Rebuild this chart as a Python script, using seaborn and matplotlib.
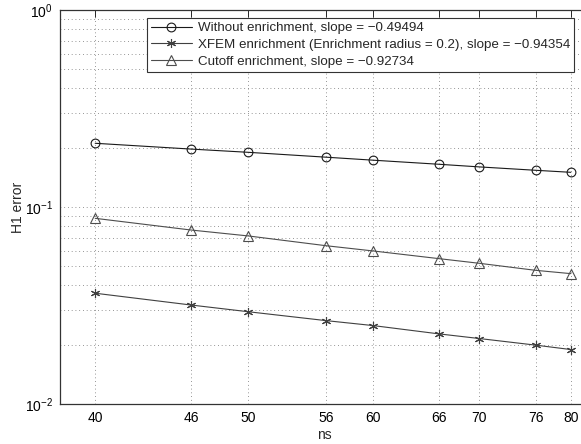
import numpy as np
import pandas as pd
import matplotlib
matplotlib.use("Agg")
import matplotlib.pyplot as plt
import seaborn as sns
from matplotlib.ticker import FixedLocator, FixedFormatter, LogLocator, NullLocator

ns = [40, 46, 50, 56, 60, 66, 70, 76, 80]
err_without = [0.2106, 0.1968, 0.1895, 0.1790, 0.1728, 0.1648, 0.1598, 0.1536, 0.1500]
err_xfem = [0.0365, 0.0318, 0.0294, 0.0265, 0.0250, 0.0227, 0.0215, 0.0199, 0.0189]
err_cutoff = [0.0876, 0.0764, 0.0713, 0.0636, 0.0598, 0.0547, 0.0518, 0.0477, 0.0459]
labels = [
    "Without enrichment, slope = \u22120.49494",
    "XFEM enrichment (Enrichment radius = 0.2), slope = \u22120.94354",
    "Cutoff enrichment, slope = \u22120.92734",
]
xtick_labels = ["40", "46", "50", "56", "60", "66", "70", "76", "80"]

sns.set_theme(style="white")
plt.rcParams["font.family"] = ["Liberation Sans", "DejaVu Sans"]
plt.rcParams["mathtext.fontset"] = "custom"
plt.rcParams["mathtext.rm"] = "Liberation Sans"
plt.rcParams["mathtext.it"] = "Liberation Sans:italic"

W, H = 581, 444
fig = plt.figure(figsize=(W / 100, H / 100), dpi=100)
left_px, top_px, bottom_px = 60, 10, 404
xmin, xmax = 38.0, 82.0
px_per_dec = (571.3 - 95.7) / np.log10(2)
width_px = px_per_dec * np.log10(xmax / xmin)
ax = fig.add_axes([left_px / W, 1 - bottom_px / H, width_px / W, (bottom_px - top_px) / H])

df = pd.DataFrame({
    "ns": ns * 3,
    "err": err_without + err_xfem + err_cutoff,
    "series": [labels[0]] * 9 + [labels[1]] * 9 + [labels[2]] * 9,
})

cols = ["0.1", "0.25", "0.3"]
markers = ["o", (6, 2, 0), "^"]
sizes = [6.3, 6.5, 7]
for lab, m, s, c in zip(labels, markers, sizes, cols):
    sub = df[df["series"] == lab]
    sns.lineplot(data=sub, x="ns", y="err", ax=ax, color=c, linewidth=0.8,
                 marker=m, markersize=s, markerfacecolor="none",
                 markeredgecolor=c, markeredgewidth=0.8, label=lab)

ax.set_xscale("log")
ax.set_yscale("log")
ax.set_xlim(xmin, xmax)
ax.set_ylim(1e-2, 1e0)
ax.xaxis.set_major_locator(FixedLocator(ns))
ax.xaxis.set_major_formatter(FixedFormatter(xtick_labels))
ax.xaxis.set_minor_locator(NullLocator())
ax.yaxis.set_major_locator(LogLocator(base=10, numticks=10))
ax.yaxis.set_minor_locator(LogLocator(base=10, subs=np.arange(2, 10), numticks=20))

ax.grid(True, which="major", linestyle=(0, (1, 3.5)), color="0.45", linewidth=0.6)
ax.grid(True, which="minor", axis="y", linestyle=(0, (1, 3.5)), color="0.45", linewidth=0.6)
ax.tick_params(which="both", direction="in", top=True, right=True, colors="0.15",
               labelsize=10, labelcolor="black")
ax.tick_params(which="major", length=5, width=0.7, pad=5)
ax.tick_params(which="minor", length=3, width=0.6)
for sp in ax.spines.values():
    sp.set_color("0.2")
    sp.set_linewidth(0.9)

ax.set_xlabel("ns", fontsize=10, labelpad=2)
ax.set_ylabel("H1 error", fontsize=10, labelpad=0)

leg = ax.legend(loc="upper right", bbox_to_anchor=(574 / W, 1 - 18 / H),
                bbox_transform=fig.transFigure, fontsize=9.6, frameon=True,
                fancybox=False, edgecolor="0.2", framealpha=1,
                handlelength=3.05, handletextpad=0.45, borderpad=0.3,
                labelspacing=0.32, borderaxespad=0)
leg.get_frame().set_linewidth(0.8)

fig.savefig("out.png", dpi=100)
